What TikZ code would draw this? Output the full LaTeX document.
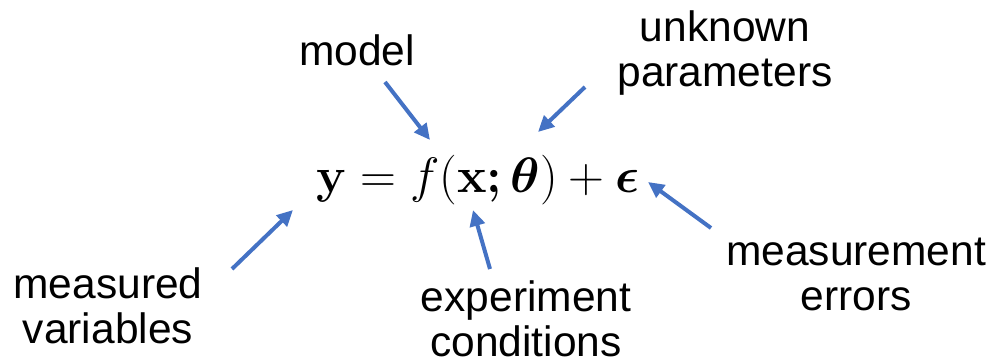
\documentclass[tikz,border=0pt]{standalone}
\usepackage{amsmath}
\usepackage[no-math]{fontspec}
\setmainfont{Liberation Sans}
\usetikzlibrary{arrows.meta}
\definecolor{arrowblue}{HTML}{4472C4}
\tikzset{
  txt/.style={align=center, inner sep=0pt, font=\fontsize{21.25}{22.5}\selectfont},
  eqn/.style={inner sep=0pt, font=\fontsize{24.5}{28}\selectfont},
  pointer/.style={-{Triangle[length=8pt,width=7.5pt]}, line width=2pt, arrowblue},
}
\begin{document}
\begin{tikzpicture}[x=0.5pt,y=-0.5pt]
\useasboundingbox (0,0) rectangle (992,363);

\node[eqn] (eq) at (478,180)
  {$\mathbf{y}=f(\mathbf{x}\boldsymbol{;}\,\boldsymbol{\theta})+\boldsymbol{\epsilon}$};

\node[txt] (model) at (357,50) {model};
\node[txt] (params) at (725,53) {unknown\\parameters};
\node[txt] (measvar) at (108,306) {measured\\variables};
\node[txt] (expcond) at (526,319) {experiment\\conditions};
\node[txt] (measerr) at (856,274) {measurement\\errors};

% arrow ends
\coordinate (model-a) at (385,82);   \coordinate (model-b) at (430,140);
\coordinate (params-a) at (585,87);  \coordinate (params-b) at (538,132);
\coordinate (measvar-a) at (232,269); \coordinate (measvar-b) at (293,210);
\coordinate (expcond-a) at (490,269); \coordinate (expcond-b) at (473,210);
\coordinate (measerr-a) at (711,228); \coordinate (measerr-b) at (648,182);

\foreach \n in {model, params, measvar, expcond, measerr} {
  \draw[pointer] (\n-a) -- (\n-b);
}

\end{tikzpicture}
\end{document}
